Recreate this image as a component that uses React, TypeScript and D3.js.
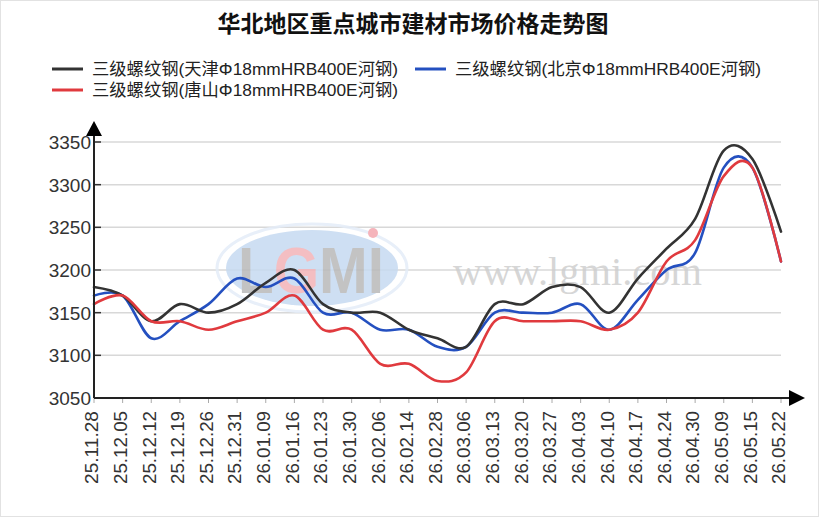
import * as d3 from 'd3';

const WIDTH = 819;
const HEIGHT = 517;

// dates on the x axis
const dates = [
    '25.11.28', '25.12.05', '25.12.12', '25.12.19', '25.12.26', '25.12.31',
    '26.01.09', '26.01.16', '26.01.23', '26.01.30', '26.02.06', '26.02.14',
    '26.02.28', '26.03.06', '26.03.13', '26.03.20', '26.03.27', '26.04.03',
    '26.04.10', '26.04.17', '26.04.24', '26.04.30', '26.05.09', '26.05.15',
    '26.05.22',
];

// 天津 (black)
const tianjin = [3180, 3170, 3140, 3160, 3150, 3160, 3185, 3200, 3160, 3150, 3150, 3130, 3120, 3110, 3160, 3160, 3180, 3180, 3150, 3190, 3225, 3260, 3340, 3330, 3245];
// 北京 (blue)
const beijing = [3170, 3170, 3120, 3140, 3160, 3190, 3180, 3190, 3150, 3150, 3130, 3130, 3110, 3110, 3150, 3150, 3150, 3160, 3130, 3165, 3200, 3220, 3320, 3320, 3210];
// 唐山 (red)
const tangshan = [3160, 3170, 3140, 3140, 3130, 3140, 3150, 3170, 3130, 3130, 3090, 3090, 3070, 3080, 3140, 3140, 3140, 3140, 3130, 3150, 3210, 3235, 3310, 3320, 3210];

const yTicks = [3050, 3100, 3150, 3200, 3250, 3300, 3350];

const seriesNames = [
    '三级螺纹钢(天津Φ18mmHRB400E河钢)',
    '三级螺纹钢(北京Φ18mmHRB400E河钢)',
    '三级螺纹钢(唐山Φ18mmHRB400E河钢)',
];
const seriesColors = ['#333333', '#2450c0', '#e03a3e'];

const FONT = '"Liberation Sans", Arial, "Noto Sans CJK SC", sans-serif';

export default function App() {
    const xScale = d3.scalePoint<string>().domain(dates).range([94, 781]);
    const yScale = d3.scaleLinear().domain([3050, 3350]).range([398, 142]);

    const line = d3
        .line<number>()
        .x((_, i) => xScale(dates[i]) ?? 0)
        .y((d) => yScale(d))
        .curve(d3.curveCardinal.tension(0));

    const series = [
        { name: seriesNames[0], values: tianjin, color: seriesColors[0] },
        { name: seriesNames[1], values: beijing, color: seriesColors[1] },
        { name: seriesNames[2], values: tangshan, color: seriesColors[2] },
    ];
    // draw order: blue, black, red
    const drawOrder = [series[1], series[0], series[2]];

    const legendPos = [
        { x: 52, y: 69 },
        { x: 415, y: 69 },
        { x: 52, y: 90 },
    ];

    const x0 = xScale.range()[0];
    const x1 = xScale.range()[1];
    const yBottom = yScale.range()[0];

    return (
        <svg width={WIDTH} height={HEIGHT} style={{ position: 'absolute', left: 0, top: 0, background: '#fff' }}>
            <rect x={0.5} y={0.5} width={WIDTH - 1} height={HEIGHT - 1} fill="#fff" stroke="#e2e2e2" />

            {/* title */}
            <text x={413} y={32} textAnchor="middle" fontSize={23} fontWeight="bold"
                fontFamily='"Noto Sans CJK SC", sans-serif' fill="#111">
                华北地区重点城市建材市场价格走势图
            </text>

            {/* legend */}
            {series.map((s, i) => (
                <g key={s.name}>
                    <line x1={legendPos[i].x} x2={legendPos[i].x + 31} y1={legendPos[i].y} y2={legendPos[i].y}
                        stroke={s.color} strokeWidth={3} />
                    <text x={legendPos[i].x + 40} y={legendPos[i].y + 6} fontSize={17} fontFamily={FONT}
                        fill="#222" textLength={306} lengthAdjust="spacingAndGlyphs">
                        {s.name}
                    </text>
                </g>
            ))}

            {/* grid */}
            {yTicks.map((v) => (
                <g key={v}>
                    {v !== yTicks[0] && (
                        <line x1={x0} x2={x1} y1={yScale(v)} y2={yScale(v)} stroke="#d8d8d8" strokeWidth={1.5} />
                    )}
                    <line x1={x0} x2={x0 + 7} y1={yScale(v)} y2={yScale(v)} stroke="#333" strokeWidth={1.5} />
                    <text x={91} y={yScale(v)} dy="0.36em" textAnchor="end" fontSize={19} fontFamily={FONT} fill="#333">
                        {v}
                    </text>
                </g>
            ))}

            {/* watermark */}
            <g opacity={0.85}>
                <ellipse cx={312} cy={268} rx={95} ry={44} fill="none" stroke="#e4edf8" strokeWidth={3} />
                <ellipse cx={312} cy={268} rx={86} ry={38} fill="#c6daf1" />
                <text x={238} y={293} fontSize={64} fontWeight="bold" fontFamily={FONT} fill="#b9b9b9"
                    textLength={146} lengthAdjust="spacingAndGlyphs">
                    L<tspan fill="#f3b3b8">G</tspan>MI
                </text>
                <circle cx={373} cy={233} r={5} fill="#f4a8b0" />
                <text x={453} y={285} fontSize={40} fontFamily='"Liberation Serif", serif' fill="#cfcfcf"
                    textLength={249} lengthAdjust="spacingAndGlyphs">
                    www.lgmi.com
                </text>
            </g>

            {/* x ticks */}
            {dates.map((d) => (
                <line key={d} x1={xScale(d)} x2={xScale(d)} y1={yBottom} y2={yBottom + 5} stroke="#aaa" strokeWidth={1} />
            ))}

            {/* series lines */}
            {drawOrder.map((s) => (
                <path key={s.name} d={line(s.values) ?? ''} fill="none" stroke={s.color} strokeWidth={2.6}
                    strokeLinejoin="round" strokeLinecap="round" />
            ))}

            {/* axes */}
            <line x1={x0} x2={x0} y1={132} y2={yBottom} stroke="#222" strokeWidth={2} />
            <path d={`M${x0},121 L${x0 - 8},136 L${x0 + 8},136 Z`} fill="#000" />
            <line x1={x0} x2={792} y1={yBottom} y2={yBottom} stroke="#222" strokeWidth={2} />
            <path d={`M805,${yBottom} L789,${yBottom - 8} L789,${yBottom + 8} Z`} fill="#000" />

            {/* x labels */}
            {dates.map((d) => (
                <text key={d} transform={`translate(${(xScale(d) ?? 0) - 2},411) rotate(-90)`} dy="0.35em"
                    textAnchor="end" fontSize={18} fontFamily={FONT} fill="#333"
                    textLength={73} lengthAdjust="spacingAndGlyphs">
                    {d}
                </text>
            ))}
        </svg>
    );
}
